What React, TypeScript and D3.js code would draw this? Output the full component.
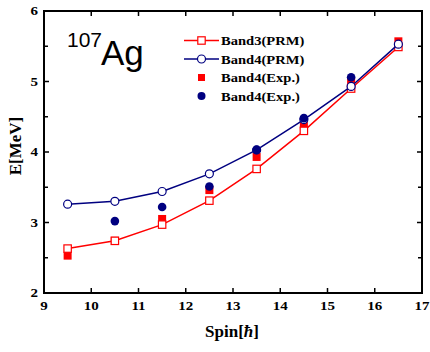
import React from "react";
import * as d3 from "d3";

// Spin values (in units of ħ)
const spins = [9.5, 10.5, 11.5, 12.5, 13.5, 14.5, 15.5, 16.5];
// Band3 PRM calculation (MeV)
const band3PRM = [2.63, 2.74, 2.97, 3.31, 3.76, 4.3, 4.9, 5.49];
// Band4 PRM calculation (MeV)
const band4PRM = [3.26, 3.3, 3.44, 3.69, 4.03, 4.46, 4.93, 5.53];
// Experimental levels, red squares
const expSquareSpins = [9.5, 10.5, 11.5, 12.5, 13.5, 14.5, 15.5, 16.5];
const expSquare = [2.53, 2.74, 3.05, 3.46, 3.93, 4.39, 4.99, 5.57];
// Experimental levels, blue circles
const expCircleSpins = [10.5, 11.5, 12.5, 13.5, 14.5, 15.5];
const expCircle = [3.02, 3.22, 3.51, 4.03, 4.48, 5.06];

const xTicks = [9, 10, 11, 12, 13, 14, 15, 16, 17];
const yTicks = [2, 3, 4, 5, 6];
const yMinorTicks = [2.5, 3.5, 4.5, 5.5];

const legendLabels = ["Band3(PRM)", "Band4(PRM)", "Band4(Exp.)", "Band4(Exp.)"];

const RED = "#ff0000";
const BLUE = "#000080";
const SERIF = "'Liberation Serif', 'Times New Roman', serif";
const SANS = "'Liberation Sans', Arial, sans-serif";

// Horizontally widened bold serif label anchored at (x, y)
function WideText(props: {
  x: number;
  y: number;
  sx: number;
  size: number;
  anchor?: "start" | "middle" | "end";
  children: React.ReactNode;
}) {
  const { x, y, sx, size, anchor = "start", children } = props;
  return (
    <text
      transform={`translate(${x},${y}) scale(${sx},1)`}
      textAnchor={anchor}
      fontFamily={SERIF}
      fontWeight="bold"
      fontSize={size}
    >
      {children}
    </text>
  );
}

export default function App() {
  const W = 430;
  const H = 352;
  const left = 44, right = 422, top = 11, bottom = 293;
  const x = d3.scaleLinear().domain([9, 17]).range([left, right]);
  const y = d3.scaleLinear().domain([2, 6]).range([bottom, top]);

  const line = d3
    .line<[number, number]>()
    .x((d) => x(d[0]))
    .y((d) => y(d[1]));

  const b3 = spins.map((s, i) => [s, band3PRM[i]] as [number, number]);
  const b4 = spins.map((s, i) => [s, band4PRM[i]] as [number, number]);

  const sq = 8;
  const r = 4.3;
  const tick = 5;

  const legendX = 184;
  const legendRows = [40.5, 59, 77.5, 96];

  return (
    <svg
      width={W}
      height={H}
      style={{ position: "absolute", left: 0, top: 0, background: "#fff" }}
    >
      {/* experimental points */}
      {expSquareSpins.map((s, i) => (
        <rect
          key={"es" + i}
          x={x(s) - sq / 2}
          y={y(expSquare[i]) - sq / 2}
          width={sq}
          height={sq}
          fill={RED}
        />
      ))}

      {/* PRM curves */}
      <path d={line(b3) ?? ""} fill="none" stroke={RED} strokeWidth={1.5} />
      {b3.map((d, i) => (
        <rect
          key={"b3" + i}
          x={x(d[0]) - 3.7}
          y={y(d[1]) - 3.7}
          width={7.4}
          height={7.4}
          fill="#fff"
          stroke={RED}
          strokeWidth={1.2}
        />
      ))}
      <path d={line(b4) ?? ""} fill="none" stroke={BLUE} strokeWidth={1.5} />
      {b4.map((d, i) => (
        <circle
          key={"b4" + i}
          cx={x(d[0])}
          cy={y(d[1])}
          r={4}
          fill="#fff"
          stroke={BLUE}
          strokeWidth={1.2}
        />
      ))}

      {expCircleSpins.map((s, i) => (
        <circle key={"ec" + i} cx={x(s)} cy={y(expCircle[i])} r={r} fill={BLUE} />
      ))}

      {/* frame */}
      <rect
        x={left}
        y={top}
        width={right - left}
        height={bottom - top}
        fill="none"
        stroke="#000"
        strokeWidth={2}
      />

      {/* ticks */}
      {xTicks.map((t) => (
        <g key={"xt" + t}>
          <line x1={x(t)} x2={x(t)} y1={bottom} y2={bottom - tick} stroke="#000" strokeWidth={1.5} />
          <line x1={x(t)} x2={x(t)} y1={top} y2={top + tick} stroke="#000" strokeWidth={1.5} />
          <WideText x={x(t)} y={310} sx={1.25} size={12} anchor="middle">
            {t}
          </WideText>
        </g>
      ))}
      {yTicks.map((t) => (
        <g key={"yt" + t}>
          <line x1={left} x2={left + tick} y1={y(t)} y2={y(t)} stroke="#000" strokeWidth={1.5} />
          <line x1={right} x2={right - tick} y1={y(t)} y2={y(t)} stroke="#000" strokeWidth={1.5} />
          <WideText x={38} y={y(t) + 4} sx={1.25} size={12} anchor="end">
            {t}
          </WideText>
        </g>
      ))}
      {yMinorTicks.map((t) => (
        <g key={"ym" + t}>
          <line x1={left} x2={left + 4} y1={y(t)} y2={y(t)} stroke="#000" strokeWidth={1.5} />
          <line x1={right} x2={right - 4} y1={y(t)} y2={y(t)} stroke="#000" strokeWidth={1.5} />
        </g>
      ))}

      {/* axis titles */}
      <text
        x={232}
        y={337}
        textAnchor="middle"
        fontFamily={SERIF}
        fontWeight="bold"
        fontSize={17}
      >
        Spin[<tspan fontStyle="italic">ħ</tspan>]
      </text>
      <text
        transform="translate(21,146) rotate(-90)"
        textAnchor="middle"
        fontFamily={SERIF}
        fontWeight="bold"
        fontSize={17}
      >
        E[MeV]
      </text>

      {/* nucleus label */}
      <text x={67} y={47} fontFamily={SANS} fontSize={21}>
        107
      </text>
      <text x={101} y={65} fontFamily={SANS} fontSize={35}>
        Ag
      </text>

      {/* legend */}
      <line x1={legendX} x2={legendX + 35} y1={legendRows[0]} y2={legendRows[0]} stroke={RED} strokeWidth={1.5} />
      <rect
        x={legendX + 17.5 - 3.7}
        y={legendRows[0] - 3.7}
        width={7.4}
        height={7.4}
        fill="#fff"
        stroke={RED}
        strokeWidth={1.2}
      />
      <line x1={legendX} x2={legendX + 35} y1={legendRows[1]} y2={legendRows[1]} stroke={BLUE} strokeWidth={1.5} />
      <circle cx={legendX + 17.5} cy={legendRows[1]} r={4} fill="#fff" stroke={BLUE} strokeWidth={1.2} />
      <rect x={legendX + 17.5 - 3.5} y={legendRows[2] - 3.5} width={7} height={7} fill={RED} />
      <circle cx={legendX + 17.5} cy={legendRows[3]} r={4} fill={BLUE} />
      {legendLabels.map((l, i) => (
        <WideText key={"lg" + i} x={221} y={legendRows[i] + 4.5} sx={1.12} size={13}>
          {l}
        </WideText>
      ))}
    </svg>
  );
}
